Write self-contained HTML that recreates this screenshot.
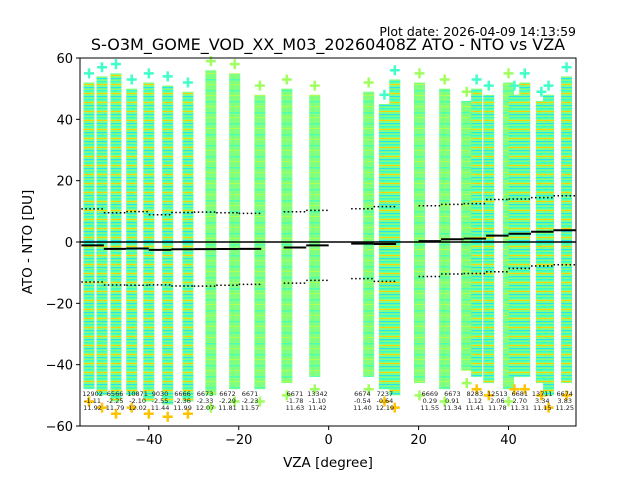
<!DOCTYPE html>
<html><head><meta charset="utf-8"><style>
body{margin:0;background:#fff;font-family:"Liberation Sans","DejaVu Sans",sans-serif}
svg text{font-family:"DejaVu Sans","Liberation Sans",sans-serif}
</style></head><body>
<svg id="c" width="640" height="480" xmlns="http://www.w3.org/2000/svg">
<defs>
<pattern id="stripes" width="12" height="11" patternUnits="userSpaceOnUse">
<rect width="12" height="11" fill="#80ff80"/>
<rect y="2" width="12" height="1.5" fill="#4dffb0"/>
<rect y="7" width="12" height="1" fill="#b0ff50"/>
</pattern>
<pattern id="stripes2" width="12" height="9" patternUnits="userSpaceOnUse">
<rect width="12" height="9" fill="#80ff80"/>
<rect y="0" width="12" height="1.5" fill="#30ffd0"/>
<rect y="3" width="12" height="1" fill="#ffd200"/>
<rect y="6" width="12" height="1.2" fill="#20e8f0"/>
</pattern>
</defs>
<g id="marks"></g>
<g id="axes"></g>
</svg>
<script>
const colVZA=[-53.3,-50.4,-47.3,-43.8,-40,-35.8,-31.3,-26.2,-20.9,-15.3,-9.3,-3.1,8.9,12.4,14.7,20.2,25.8,30.7,32.9,35.6,40,41.3,43.6,47.3,48.9,52.9];
const colTop=[52,54,55,50,52,51,49,56,55,48,50,48,49,45,53,52,50,46,50,48,52,48,52,46,48,54];
const colBot=[-48,-50,-52,-50,-52,-53,-52,-50,-48,-48,-46,-44,-44,-48,-50,-46,-48,-42,-44,-46,-48,-44,-44,-46,-50,-46];
const colMixed=[1,1,1,1,1,1,1,0,0,0,0,0,0,1,1,0,0,0,1,1,0,1,1,1,1,1];
const binStart=[-55,-50,-45,-40,-35,-30,-25,-20,-10,-5,5,10,20,25,30,35,40,45,50];
const binCount=[12902,6566,10871,9030,6666,6673,6672,6671,6671,13342,6674,7237,6669,6673,8283,12513,6681,13711,6674];
const binMean=[-1.11,-2.25,-2.10,-2.55,-2.36,-2.33,-2.29,-2.23,-1.78,-1.10,-0.54,-0.64,0.29,0.91,1.12,2.06,2.70,3.34,3.83];
const binStd=[11.92,11.79,12.02,11.44,11.99,12.07,11.81,11.57,11.63,11.42,11.40,12.19,11.55,11.34,11.41,11.78,11.31,11.15,11.25];
const xTicks=[-40,-20,0,20,40];
const yTicks=[-60,-40,-20,0,20,40,60];
const L=80,R=576,T=58,B=426,xmin=-55.3,xmax=55,ymin=-60,ymax=60;
const X=v=>L+(v-xmin)/(xmax-xmin)*(R-L);
const Y=v=>B-(v-ymin)/(ymax-ymin)*(B-T);
const NS="http://www.w3.org/2000/svg";
const marks=document.getElementById('marks'),axes=document.getElementById('axes');
function mk(tag,attrs,parent){const e=document.createElementNS(NS,tag);for(const k in attrs)e.setAttribute(k,attrs[k]);parent.appendChild(e);return e;}
colVZA.forEach((v,i)=>{
 const r=mk('rect',{x:X(v)-5.5,y:Y(colTop[i]),width:11,height:Y(colBot[i])-Y(colTop[i]),fill:colMixed[i]?'url(#stripes2)':'url(#stripes)'},marks);
 
 
 [colTop[i]+3,colBot[i]-4].forEach((y,k)=>{
  const p=mk('path',{d:`M${X(v)-5} ${Y(y)}h10M${X(v)} ${Y(y)-5}v10`,stroke:colMixed[i]?(k?'#ffc400':'#40ffc8'):'#a0ff60','stroke-width':2.5},marks);
  
  
 });
});
mk('line',{x1:L,x2:R,y1:Y(0),y2:Y(0),stroke:'#000','stroke-width':1.5},marks);
binStart.forEach((b,i)=>{
 const x1=X(b),x2=X(b+5);
 const m=mk('line',{x1,x2,y1:Y(binMean[i]),y2:Y(binMean[i]),stroke:'#000','stroke-width':2},marks);
 
 
 [binMean[i]+binStd[i],binMean[i]-binStd[i]].forEach(y=>{
  const d=mk('line',{x1,x2,y1:Y(y),y2:Y(y),stroke:'#000','stroke-width':1.5,'stroke-dasharray':'1.5,2.5'},marks);
  
  
 });
 const cx=X(b+2.5);
 [binCount[i],binMean[i].toFixed(2),binStd[i].toFixed(2)].forEach((s,k)=>{
  const t=mk('text',{x:cx,y:396+k*7,'font-size':6.5,'text-anchor':'middle',fill:'#222'},axes);
  t.textContent=s;
  
  
 });
});
const frame=mk('rect',{x:L,y:T,width:R-L,height:B-T,fill:'none',stroke:'#000','stroke-width':1},axes);


xTicks.forEach(v=>{
 mk('line',{x1:X(v),x2:X(v),y1:B,y2:B+4,stroke:'#000'},axes);
 const t=mk('text',{x:X(v),y:B+18,'font-size':13,'text-anchor':'middle'},axes);
 t.textContent=v<0?'\u2212'+(-v):v;
 
 
});
yTicks.forEach(v=>{
 mk('line',{x1:L-4,x2:L,y1:Y(v),y2:Y(v),stroke:'#000'},axes);
 const t=mk('text',{x:L-7,y:Y(v)+5,'font-size':13,'text-anchor':'end'},axes);
 t.textContent=v<0?'\u2212'+(-v):v;
 
 
});
</script>
<svg width="640" height="480" style="position:absolute;left:0;top:0" xmlns="http://www.w3.org/2000/svg">
<text x="576" y="36" font-size="12.5" text-anchor="end" font-family="DejaVu Sans">Plot date: 2026-04-09 14:13:59</text>
<text x="328" y="50" font-size="16" text-anchor="middle" font-family="DejaVu Sans">S-O3M_GOME_VOD_XX_M03_20260408Z ATO - NTO vs VZA</text>
<text x="328" y="467" font-size="13.5" text-anchor="middle" font-family="DejaVu Sans">VZA [degree]</text>
<text x="32" y="242" font-size="13.5" text-anchor="middle" font-family="DejaVu Sans" transform="rotate(-90 32 242)">ATO - NTO [DU]</text>
</svg>
</body></html>
